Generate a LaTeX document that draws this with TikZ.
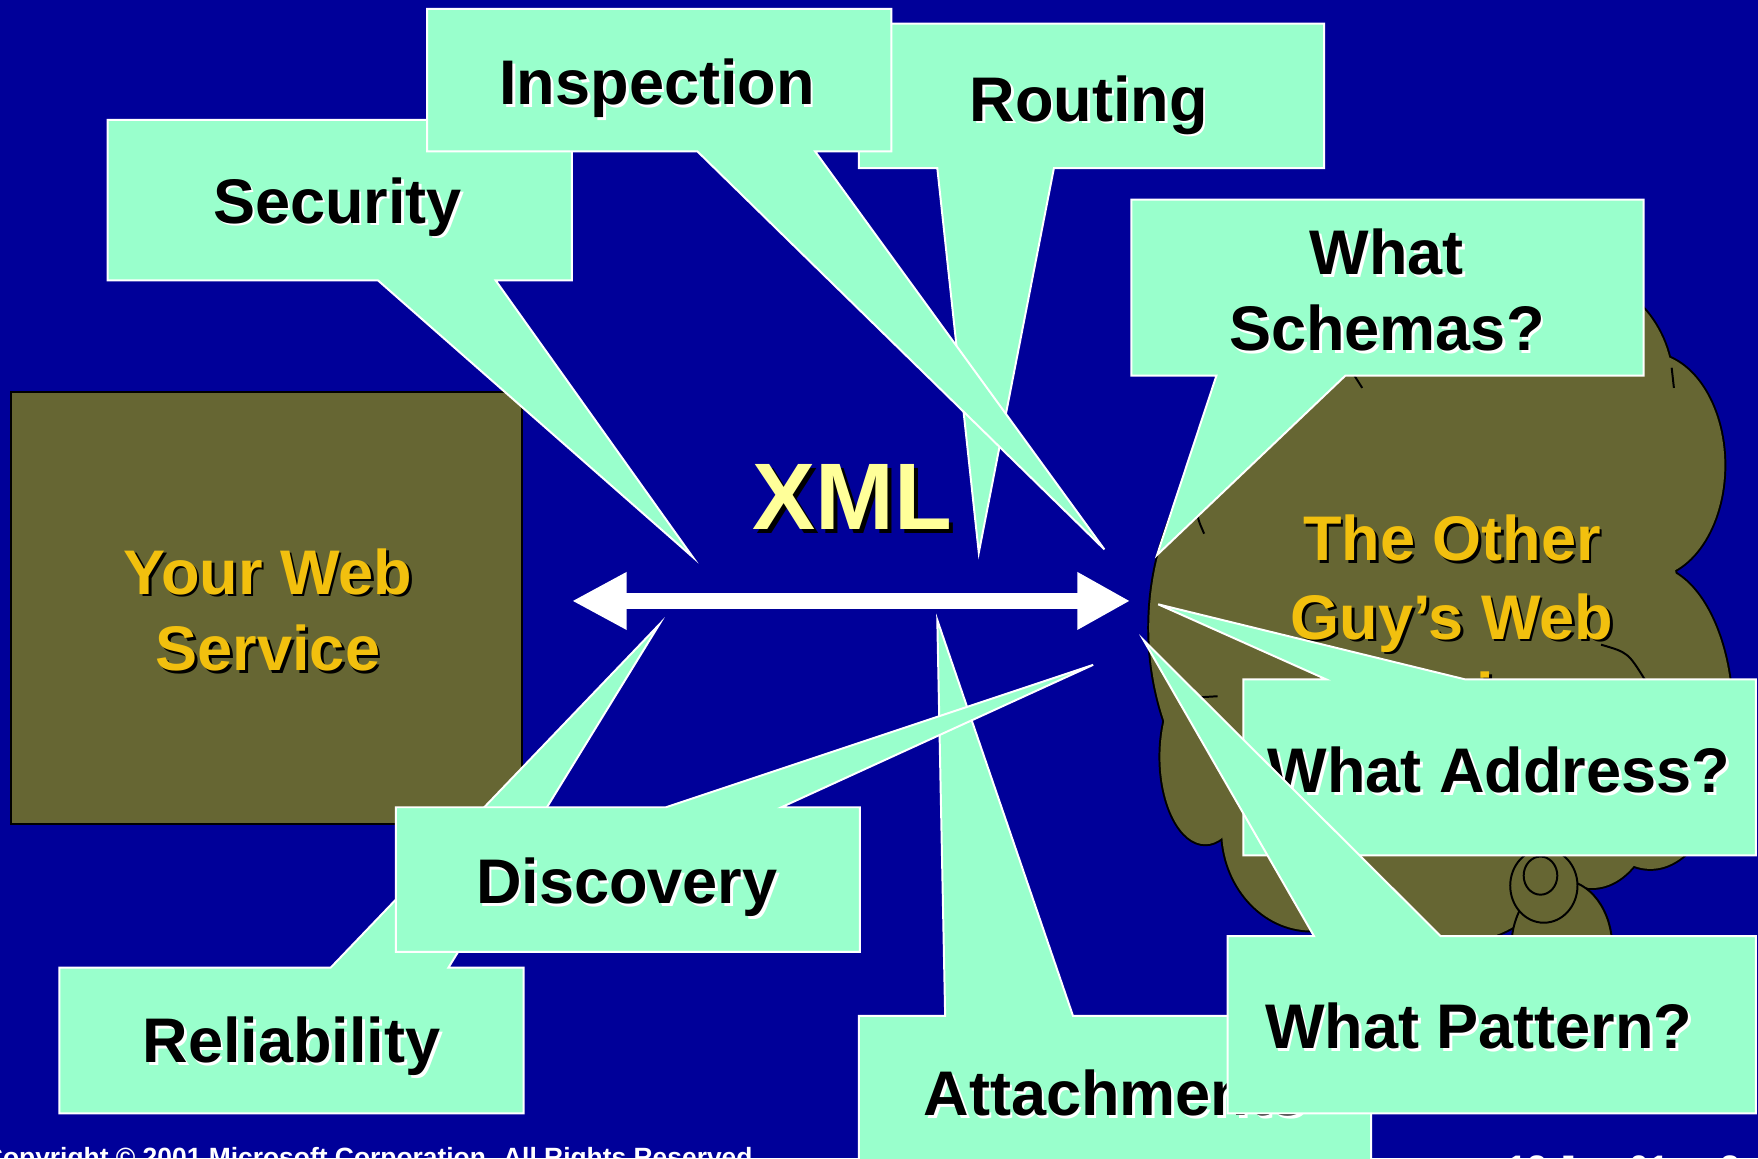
\documentclass[tikz,border=0pt]{standalone}
\usepackage{fontspec}
\setmainfont{Liberation Sans}
\usetikzlibrary{arrows.meta}
\definecolor{bgblue}{HTML}{000099}
\definecolor{mint}{HTML}{99FFCC}
\definecolor{olivebox}{HTML}{666633}
\definecolor{gold}{RGB}{242,192,14}
\definecolor{paleyellow}{HTML}{FFFF99}
\newcommand\shd[4]{\rlap{\kern#4\raisebox{-#4}{\textcolor{#2}{#3}}}\textcolor{#1}{#3}}
\tikzset{
  callout/.style={fill=mint, draw=white, line width=0.5pt, line join=miter},
  lbl/.style={anchor=base, inner sep=0pt, font=\bfseries\fontsize{16pt}{19pt}\selectfont},
  xlbl/.style={anchor=base, inner sep=0pt, font=\bfseries\fontsize{24pt}{28pt}\selectfont},
  smalllbl/.style={inner sep=0pt, text=white, font=\bfseries\fontsize{6.7pt}{8pt}\selectfont},
  datelbl/.style={inner sep=0pt, text=white, font=\bfseries\fontsize{9pt}{10pt}\selectfont},
  servicebox/.style={fill=olivebox, draw=black, line width=0.5pt},
  xmlarrow/.style={draw=white, line width=1.4mm,
     {Triangle[length=4.9mm,width=4.8mm]}-{Triangle[length=4.7mm,width=4.8mm]}},
  cloudline/.style={draw=black, line width=0.5pt},
}
\begin{document}
\begin{tikzpicture}[x=0.1mm,y=-0.1mm]
\useasboundingbox (0,0) rectangle (1568,1033);
\clip (0,0) rectangle (1568,1033);
\fill[bgblue] (0,0) rectangle (1568,1033);

% ---- Your Web Service
\draw[servicebox] (10,350) rectangle (466,735);
\node[lbl] (yws1) at (239,530) {\shd{gold}{black}{Your Web}{0.7pt}};
\node[lbl] (yws2) at (239,598) {\shd{gold}{black}{Service}{0.7pt}};

% ---- Cloud (union of lobes)
\foreach \cx/\cy/\rx/\ry in {1400/345/92/100, 1470/415/68/100, 1472/640/73/135,
   1420/700/60/92, 1262/560/237/250, 1075/675/40/78, 1170/740/80/90, 1300/760/90/80}{
  \draw[black, line width=1pt] (\cx,\cy) ellipse [x radius={\rx*0.1mm}, y radius={\ry*0.1mm}];
}
\foreach \cx/\cy/\rx/\ry in {1400/345/92/100, 1470/415/68/100, 1472/640/73/135,
   1420/700/60/92, 1262/560/237/250, 1075/675/40/78, 1170/740/80/90, 1300/760/90/80}{
  \fill[olivebox] (\cx,\cy) ellipse [x radius={\rx*0.1mm}, y radius={\ry*0.1mm}];
}
\draw[cloudline] (1071,447) .. controls (1067,460) .. (1074,476);
\draw[cloudline] (1208,335) -- (1215,346);
\draw[cloudline] (1491,328) -- (1493,346);
\draw[cloudline] (1428,575) .. controls (1452,582) .. (1467,606);
\draw[cloudline] (1069,622) -- (1086,621);
\filldraw[fill=olivebox, cloudline] (1393,845) ellipse [x radius=4.5mm, y radius=6mm];
\filldraw[fill=olivebox, cloudline] (1377,790) ellipse [x radius=3mm, y radius=3.3mm];
\draw[cloudline] (1374,781) ellipse [x radius=1.5mm, y radius=1.7mm];
\node[lbl] (og1) at (1295,500) {\shd{gold}{black}{The Other}{0.7pt}};
\node[lbl] (og2) at (1295,570) {\shd{gold}{black}{Guy’s Web}{0.7pt}};
\node[lbl] (og3) at (1295,640) {\shd{gold}{black}{Service}{0.7pt}};

% ---- XML arrow
\node[xlbl] (xml) at (760,472) {\shd{paleyellow}{black}{XML}{1pt}};
\coordinate (arrL) at (510,536);
\coordinate (arrR) at (1008,536);
\draw[xmlarrow] (arrL) -- (arrR);

% ---- tips
\coordinate (tSec) at (618,497);
\coordinate (tIns) at (985,490);
\coordinate (tRou) at (873,493);
\coordinate (tSch) at (1032,495);
\coordinate (tRel) at (588,557);
\coordinate (tAtt) at (836,553);
\coordinate (tDis) at (975,593);
\coordinate (tAdr) at (1033,539);
\coordinate (tPat) at (1020,571);

% Security
\filldraw[callout] (96,107) -- (510,107) -- (510,250) -- (442,250) -- (tSec) -- (337,250) -- (96,250) -- cycle;
\node[lbl] (sec) at (301,199) {\shd{black}{white}{Security}{0.7pt}};
% Routing
\filldraw[callout] (766,21) -- (1181,21) -- (1181,150) -- (940,150) -- (tRou) -- (836,150) -- (766,150) -- cycle;
\node[lbl] (rou) at (971,108) {\shd{black}{white}{Routing}{0.7pt}};
% Inspection
\filldraw[callout] (381,8) -- (795,8) -- (795,135) -- (727,135) -- (tIns) -- (622,135) -- (381,135) -- cycle;
\node[lbl] (ins) at (586,93) {\shd{black}{white}{Inspection}{0.7pt}};
% What Schemas?
\filldraw[callout] (1009,178) -- (1466,178) -- (1466,335) -- (1200,335) -- (tSch) -- (1085,335) -- (1009,335) -- cycle;
\node[lbl] (sch1) at (1237,245) {\shd{black}{white}{What}{0.7pt}};
\node[lbl] (sch2) at (1237,313) {\shd{black}{white}{Schemas?}{0.7pt}};
% Reliability
\filldraw[callout] (53,863) -- (295,863) -- (tRel) -- (400,863) -- (467,863) -- (467,993) -- (53,993) -- cycle;
\node[lbl] (rel) at (260,948) {\shd{black}{white}{Reliability}{0.7pt}};
% Attachments
\filldraw[callout] (766,906) -- (843,906) -- (tAtt) -- (957,906) -- (1223,906) -- (1223,1045) -- (766,1045) -- cycle;
\node[lbl] (att) at (994,995) {\shd{black}{white}{Attachments}{0.7pt}};
% Discovery
\filldraw[callout] (353,720) -- (594,720) -- (tDis) -- (697,720) -- (767,720) -- (767,849) -- (353,849) -- cycle;
\node[lbl] (dis) at (559,806) {\shd{black}{white}{Discovery}{0.7pt}};
% What Address?
\filldraw[callout] (1109,606) -- (1183,606) -- (tAdr) -- (1307,606) -- (1566,606) -- (1566,763) -- (1109,763) -- cycle;
\node[lbl] (adr) at (1337,707) {\shd{black}{white}{What Address?}{0.7pt}};
% What Pattern?
\filldraw[callout] (1095,835) -- (1172,835) -- (tPat) -- (1285,835) -- (1566,835) -- (1566,993) -- (1095,993) -- cycle;
\node[lbl] (pat) at (1319,935) {\shd{black}{white}{What Pattern?}{0.7pt}};

% ---- footer
\node[smalllbl, anchor=base west] (copy) at (-15,1040) {Copyright © 2001 Microsoft Corporation. All Rights Reserved.};
\node[datelbl, anchor=base west] (date) at (1344,1053) {12 Jun 01};
\node[datelbl, anchor=base west] (pg) at (1534,1053) {2};
\end{tikzpicture}
\end{document}
